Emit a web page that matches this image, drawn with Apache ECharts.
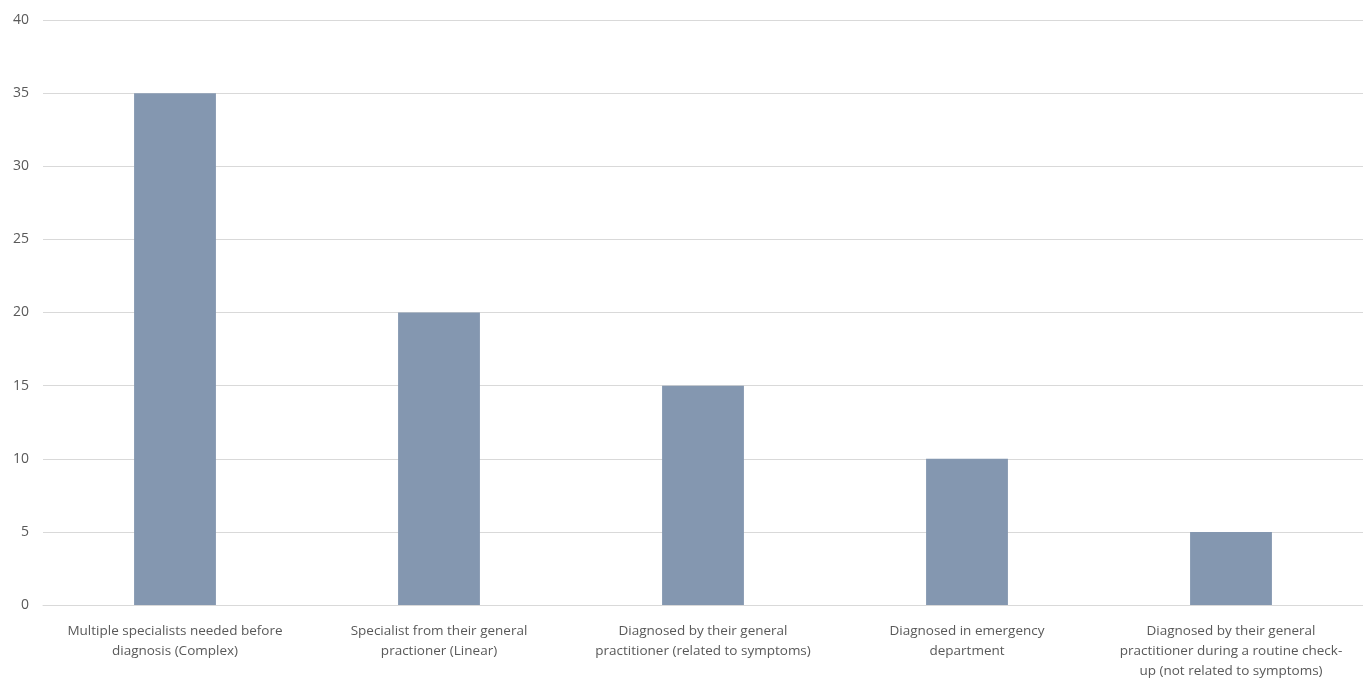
<!DOCTYPE html>
<html><head><meta charset="utf-8">
<script src="https://cdn.jsdelivr.net/npm/echarts@6/dist/echarts.min.js"></script>
<style>html,body{margin:0;padding:0;background:#fff}#c{width:1363px;height:681px}</style>
</head><body><div id="c"></div>
<script>
const categories = [
  "Multiple specialists needed before\ndiagnosis (Complex)",
  "Specialist from their general\npractioner (Linear)",
  "Diagnosed by their general\npractitioner (related to symptoms)",
  "Diagnosed in emergency\ndepartment",
  "Diagnosed by their general\npractitioner during a routine check-\nup (not related to symptoms)"
];
const values = [35, 20, 15, 10, 5];
const chart = echarts.init(document.getElementById('c'));
chart.setOption({
  animation: false,
  grid: {left: 43, right: 0, top: 20, bottom: 75, containLabel: false},
  xAxis: {
    type: 'category', data: categories,
    axisLine: {lineStyle: {color: '#d9d9d9', width: 1}},
    axisTick: {show: false},
    axisLabel: {color: '#595959', fontFamily: 'Open Sans', fontSize: 13.5, lineHeight: 20, margin: 16, interval: 0}
  },
  yAxis: {
    type: 'value', min: 0, max: 40, interval: 5,
    axisLine: {show: false}, axisTick: {show: false},
    splitLine: {lineStyle: {color: '#d9d9d9', width: 1}},
    axisLabel: {color: '#595959', fontFamily: 'Open Sans', fontSize: 14, margin: 14}
  },
  series: [{
    type: 'bar', data: values, barWidth: '31%',
    itemStyle: {color: '#8497b0'}
  }]
});
</script></body></html>
